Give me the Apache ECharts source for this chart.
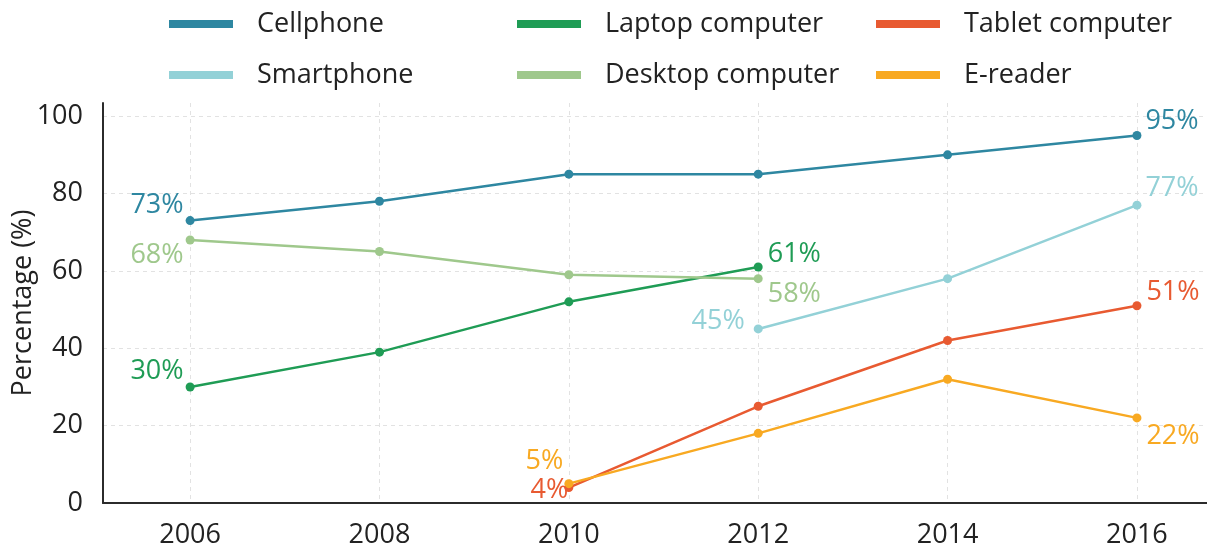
<!DOCTYPE html>
<html>
<head>
<meta charset="utf-8">
<script src="https://cdn.jsdelivr.net/npm/echarts@6/dist/echarts.min.js"></script>
<style>
  html, body { margin: 0; padding: 0; background: #fff; }
  #chart { width: 1207px; height: 552px; }
</style>
</head>
<body>
<div id="chart"></div>
<script>
// data
var years = [2006, 2008, 2010, 2012, 2014, 2016];
var yTicks = [0, 20, 40, 60, 80, 100];

var cellphone  = [73, 78, 85, 85, 90, 95];
var smartphone = [null, null, null, 45, 58, 77];
var laptop     = [30, 39, 52, 61, null, null];
var desktop    = [68, 65, 59, 58, null, null];
var tablet     = [null, null, 4, 25, 42, 51];
var ereader    = [null, null, 5, 18, 32, 22];

var font = "'Open Sans', 'Noto Sans', sans-serif";

// series definitions: name, values, colour, end label placement
var defs = [
  { name: 'Cellphone', values: cellphone, color: '#2e87a1',
    labels: { 0: ['left', [2, -15]], 5: ['right', [0, -14]] } },
  { name: 'Smartphone', values: smartphone, color: '#93d1d7',
    labels: { 3: ['left', [-5, -8]], 5: ['right', [0, -17]] } },
  { name: 'Laptop computer', values: laptop, color: '#1f9c55',
    labels: { 0: ['left', [2, -16]], 3: ['right', [1, -13]] } },
  { name: 'Desktop computer', values: desktop, color: '#9fc88c',
    labels: { 0: ['left', [2, 15]], 3: ['right', [1, 16]] } },
  { name: 'Tablet computer', values: tablet, color: '#e85a31',
    labels: { 2: ['left', [8, 3]], 5: ['right', [1, -13]] } },
  { name: 'E-reader', values: ereader, color: '#f8a922',
    labels: { 2: ['left', [3, -22]], 5: ['right', [1, 18]] } }
];

function buildSeries(d) {
  var data = [];
  d.values.forEach(function (v, i) {
    if (v == null) return;
    var item = { value: [years[i], v] };
    var lb = d.labels[i];
    if (lb) {
      item.label = {
        show: true,
        position: lb[0],
        offset: lb[1],
        distance: 4,
        formatter: v + '%',
        color: d.color,
        fontSize: 27,
        fontFamily: font
      };
    }
    data.push(item);
  });
  return {
    name: d.name,
    type: 'line',
    data: data,
    color: d.color,
    symbol: 'circle',
    symbolSize: 9,
    lineStyle: { width: 2.5, color: d.color },
    itemStyle: { color: d.color },
    label: { show: false },
    emphasis: { disabled: true },
    animation: false
  };
}

function legend(left, names) {
  return {
    orient: 'vertical',
    left: left,
    top: 4,
    itemGap: 21,
    itemWidth: 64,
    itemHeight: 8,
    icon: 'rect',
    data: names,
    textStyle: { fontSize: 27, fontFamily: font, color: '#222', lineHeight: 30, padding: [0, 0, 0, 19] },
    selectedMode: false
  };
}

var chart = echarts.init(document.getElementById('chart'));
chart.setOption({
  animation: false,
  legend: [
    legend(164, ['Cellphone', 'Smartphone']),
    legend(512, ['Laptop computer', 'Desktop computer']),
    legend(871, ['Tablet computer', 'E-reader'])
  ],
  grid: { left: 103, right: 0, top: 103, bottom: 49, outerBoundsMode: 'none', containLabel: false },
  xAxis: {
    type: 'value',
    min: 2005.08,
    max: 2016.74,
    axisLine: { lineStyle: { color: '#2b2b2b', width: 2 } },
    axisTick: { show: false, customValues: years },
    axisLabel: {
      customValues: years,
      formatter: function (v) { return String(v); },
      fontSize: 27, fontFamily: font, color: '#222', margin: 19
    },
    splitLine: { show: true, lineStyle: { color: '#e2e2e2', type: [4, 4], width: 1 } }
  },
  yAxis: {
    type: 'value',
    min: 0,
    max: 103.4,
    name: 'Percentage (%)',
    nameLocation: 'middle',
    nameGap: 66,
    nameMoveOverlap: false,
    nameTextStyle: { fontSize: 27, fontFamily: font, color: '#222' },
    axisLine: { show: true, lineStyle: { color: '#2b2b2b', width: 2 } },
    axisTick: { show: false, customValues: yTicks },
    axisLabel: {
      customValues: yTicks,
      fontSize: 27, fontFamily: font, color: '#222', margin: 20
    },
    splitLine: { show: true, lineStyle: { color: '#e2e2e2', type: [4, 4], width: 1 } }
  },
  series: defs.map(buildSeries)
});
</script>
</body>
</html>
